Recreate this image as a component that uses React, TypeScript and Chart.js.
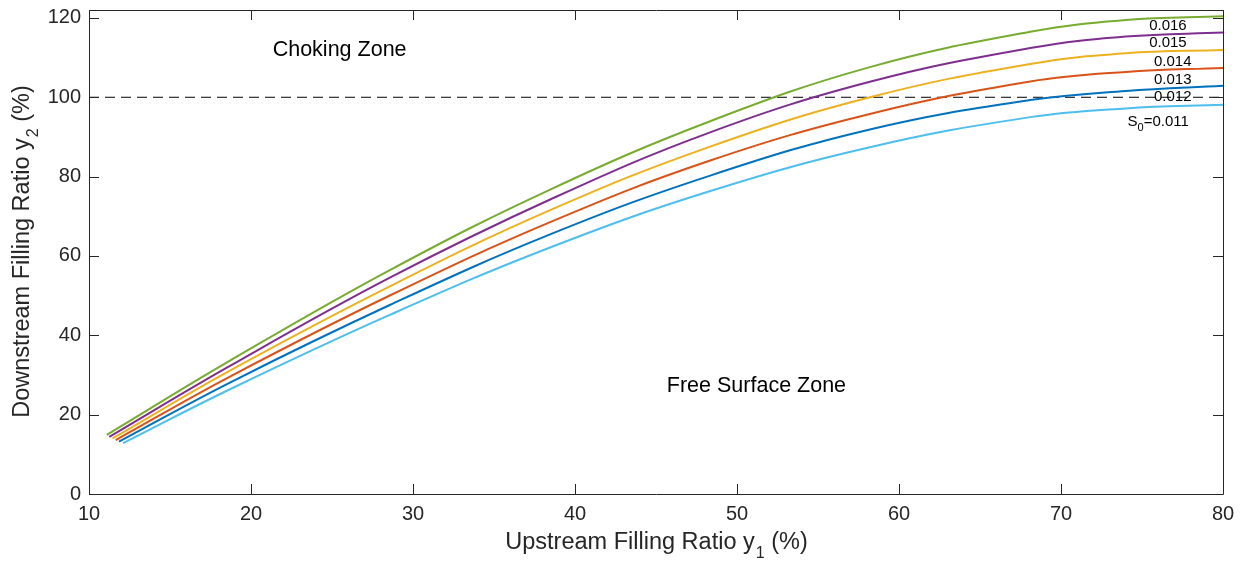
import React, { useEffect, useRef } from "react";
import { Chart, registerables } from "chart.js";
Chart.register(...registerables);

// Slope labels (S0) for each curve
const slopeLabels = ["0.011", "0.012", "0.013", "0.014", "0.015", "0.016"];
const seriesColors = ["#4DBEEE", "#0072BD", "#D95319", "#EDB120", "#7E2F8E", "#77AC30"];

// Upstream filling ratio y1 (%) sample positions per curve
const x011 = [12.1, 18.7, 28.6, 38.5, 48.3, 58.2, 68.1, 74, 80];
const x012 = [11.85, 18.7, 28.6, 38.5, 48.3, 58.2, 68.1, 74, 80];
const x013 = [11.65, 18.7, 28.6, 38.5, 48.3, 58.2, 68.1, 74, 80];
const x014 = [11.45, 18.7, 28.6, 38.5, 48.3, 58.2, 68.1, 74, 80];
const x015 = [11.25, 18.7, 28.6, 38.5, 48.3, 58.2, 68.1, 74, 80];
const x016 = [11.1, 18.7, 28.6, 38.5, 48.3, 58.2, 68.1, 74, 80];

// Downstream filling ratio y2 (%)
const y011 = [12.8, 26.4, 45.2, 62.2, 76.3, 87.4, 95.0, 97.2, 98.1];
const y012 = [13.2, 28.1, 47.7, 65.5, 80.2, 91.9, 99.3, 101.6, 102.9];
const y013 = [13.6, 29.6, 50.1, 68.6, 84.0, 95.8, 104.0, 106.4, 107.4];
const y014 = [14.0, 31.1, 52.4, 71.6, 87.5, 100.0, 108.4, 111.1, 111.9];
const y015 = [14.4, 32.3, 54.6, 74.3, 91.1, 103.9, 112.4, 115.3, 116.3];
const y016 = [14.9, 33.6, 56.5, 76.8, 93.9, 107.6, 116.5, 119.5, 120.4];

const xs = [x011, x012, x013, x014, x015, x016];
const ys = [y011, y012, y013, y014, y015, y016];

// Curve label anchor positions (data coords)
const labelX = [76.0, 76.9, 76.9, 76.9, 76.6, 76.6];
const labelY = [93.8, 100.0, 104.5, 109.0, 113.8, 118.1];

const xTicks = [10, 20, 30, 40, 50, 60, 70, 80];
const yTicks = [0, 20, 40, 60, 80, 100, 120];
const chokingLimit = 100;

const FONT = "'Liberation Sans', Arial, Helvetica, sans-serif";
const AX = "#262626";

const overlay = {
  id: "overlay",
  afterDatasetsDraw(chart: any) {
    const { ctx, chartArea: a, scales } = chart;
    const xs_ = scales.x;
    const ys_ = scales.y;
    ctx.save();
    // box
    ctx.strokeStyle = AX;
    ctx.lineWidth = 1;
    ctx.beginPath();
    ctx.rect(Math.round(a.left) + 0.5, Math.round(a.top) + 0.5, Math.round(a.right - a.left), Math.round(a.bottom - a.top));
    ctx.stroke();
    // ticks inward
    const tl = 10;
    ctx.beginPath();
    for (const t of xTicks) {
      const px = Math.round(xs_.getPixelForValue(t)) + 0.5;
      ctx.moveTo(px, a.bottom);
      ctx.lineTo(px, a.bottom - tl);
      ctx.moveTo(px, a.top);
      ctx.lineTo(px, a.top + tl);
    }
    for (const t of yTicks) {
      const py = Math.round(ys_.getPixelForValue(t)) + 0.5;
      ctx.moveTo(a.left, py);
      ctx.lineTo(a.left + tl, py);
      ctx.moveTo(a.right, py);
      ctx.lineTo(a.right - tl, py);
    }
    ctx.stroke();

    // zone labels
    ctx.fillStyle = "#000";
    ctx.font = `21.5px ${FONT}`;
    ctx.textAlign = "center";
    ctx.textBaseline = "middle";
    ctx.fillText("Choking Zone", xs_.getPixelForValue(25.47), ys_.getPixelForValue(112));
    ctx.fillText("Free Surface Zone", xs_.getPixelForValue(51.2), ys_.getPixelForValue(27.3));

    // curve labels
    ctx.font = `15px ${FONT}`;
    for (let i = 0; i < slopeLabels.length; i++) {
      const px = xs_.getPixelForValue(labelX[i]);
      const py = ys_.getPixelForValue(labelY[i]);
      if (i === 0) {
        ctx.textAlign = "left";
        const s = "S";
        const w1 = ctx.measureText(s).width;
        ctx.font = `11px ${FONT}`;
        const w2 = ctx.measureText("0").width;
        ctx.font = `15px ${FONT}`;
        const rest = "=" + slopeLabels[i];
        const w3 = ctx.measureText(rest).width;
        const start = px - (w1 + w2 + w3) / 2;
        ctx.fillText(s, start, py);
        ctx.font = `11px ${FONT}`;
        ctx.fillText("0", start + w1, py + 6);
        ctx.font = `15px ${FONT}`;
        ctx.fillText(rest, start + w1 + w2, py);
        ctx.textAlign = "center";
      } else {
        ctx.fillText(slopeLabels[i], px, py);
      }
    }

    // axis titles
    ctx.fillStyle = AX;
    const drawSub = (main: string, sub: string, tail: string, cx: number, cy: number) => {
      ctx.font = `23.5px ${FONT}`;
      const w1 = ctx.measureText(main).width;
      const w3 = ctx.measureText(tail).width;
      ctx.font = `16px ${FONT}`;
      const w2 = ctx.measureText(sub).width;
      const start = cx - (w1 + w2 + w3) / 2;
      ctx.textAlign = "left";
      ctx.textBaseline = "alphabetic";
      ctx.font = `23.5px ${FONT}`;
      ctx.fillText(main, start, cy);
      ctx.font = `16px ${FONT}`;
      ctx.fillText(sub, start + w1 + 1, cy + 9);
      ctx.font = `23.5px ${FONT}`;
      ctx.fillText(tail, start + w1 + w2 + 1, cy);
    };
    drawSub("Upstream Filling Ratio y", "1", " (%)", (a.left + a.right) / 2, 549);
    ctx.save();
    ctx.translate(29, 252);
    ctx.rotate(-Math.PI / 2);
    drawSub("Downstream Filling Ratio y", "2", " (%)", 0, 0);
    ctx.restore();
    ctx.restore();
  },
};

export default function App() {
  const ref = useRef<HTMLCanvasElement | null>(null);
  useEffect(() => {
    if (!ref.current) return;
    const datasets: any[] = xs.map((xa, i) => ({
      label: "S0=" + slopeLabels[i],
      data: xa.map((x, j) => ({ x, y: ys[i][j] })),
      borderColor: seriesColors[i],
      borderWidth: 2,
      pointRadius: 0,
      fill: false,
      tension: 0.4,
    }));
    datasets.push({
      label: "limit",
      data: [
        { x: 10, y: chokingLimit },
        { x: 80, y: chokingLimit },
      ],
      borderColor: "#000",
      borderWidth: 1,
      borderDash: [10, 6],
      pointRadius: 0,
      fill: false,
    });
    const chart = new Chart(ref.current, {
      type: "line",
      data: { datasets },
      plugins: [overlay],
      options: {
        animation: false,
        responsive: false,
        layout: { padding: { top: 10, right: 20, left: 0, bottom: 0 } },
        plugins: { legend: { display: false }, tooltip: { enabled: false } },
        scales: {
          x: {
            type: "linear",
            min: 10,
            max: 80,
            grid: { display: false, drawTicks: false },
            border: { display: false },
            afterBuildTicks: (s: any) => {
              s.ticks = xTicks.map((v) => ({ value: v }));
            },
            afterFit: (s: any) => {
              s.height = 67;
            },
            ticks: { color: AX, font: { family: FONT, size: 20 }, padding: 8 },
          },
          y: {
            type: "linear",
            min: 0,
            max: 122,
            grid: { display: false, drawTicks: false },
            border: { display: false },
            afterBuildTicks: (s: any) => {
              s.ticks = yTicks.map((v) => ({ value: v }));
            },
            afterFit: (s: any) => {
              s.width = 89;
              s.paddingTop = 0;
              s.paddingBottom = 0;
            },
            ticks: { color: AX, font: { family: FONT, size: 20 }, padding: 8 },
          },
        },
      } as any,
    });
    return () => chart.destroy();
  }, []);
  return (
    <div style={{ position: "fixed", left: 0, top: 0, width: 1243, height: 561, background: "#fff" }}>
      <canvas ref={ref} width={1243} height={561} style={{ display: "block" }} />
    </div>
  );
}
